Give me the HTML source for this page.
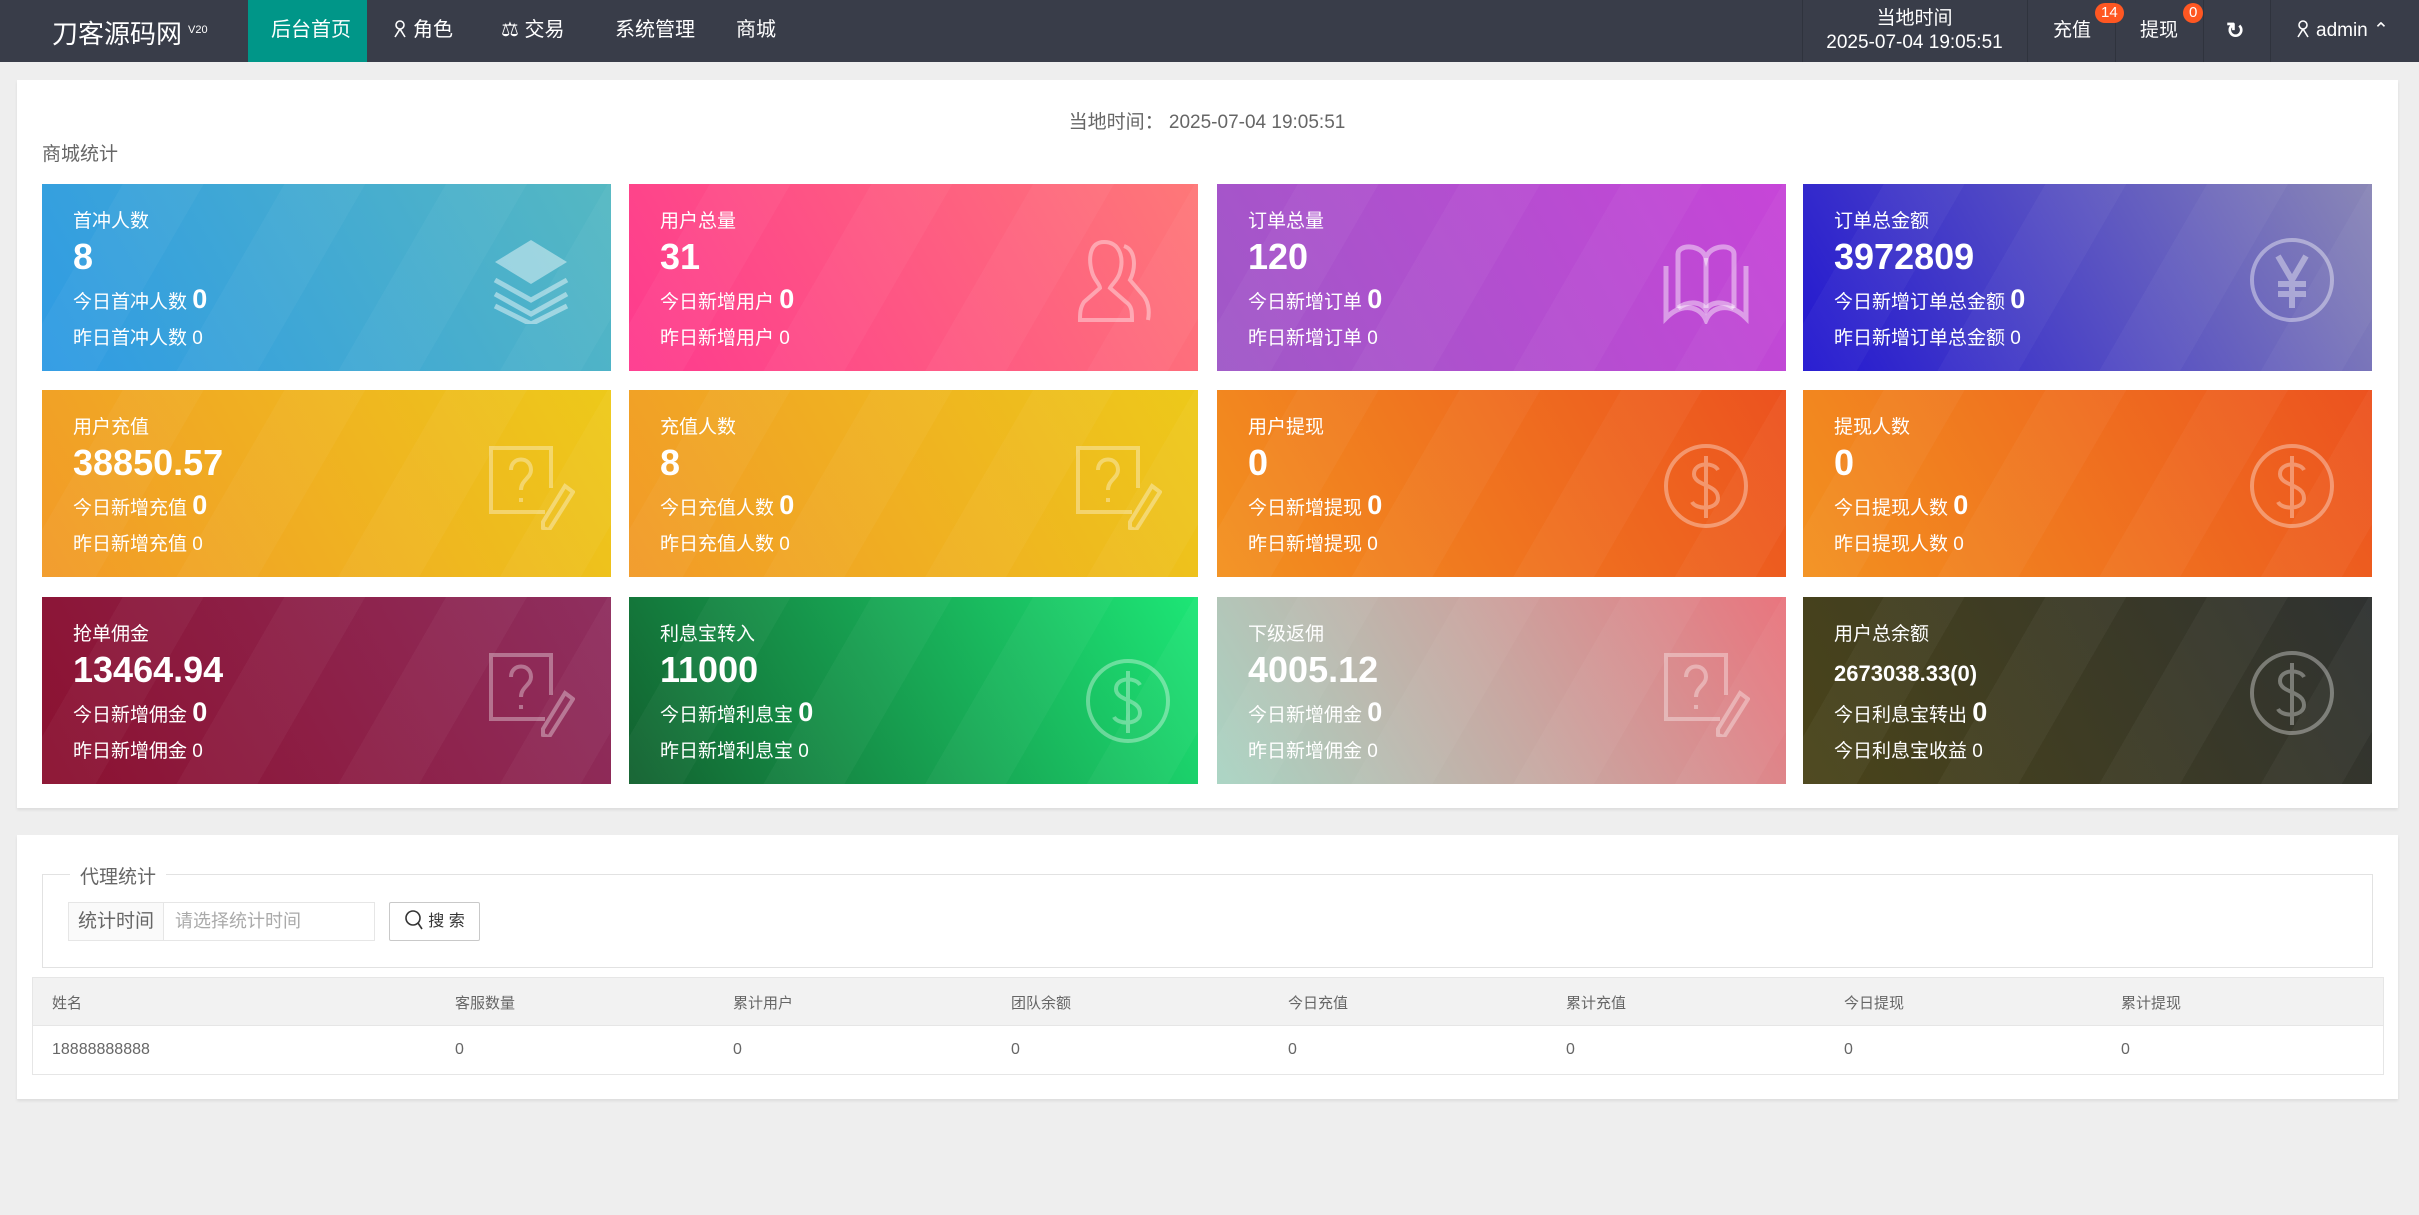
<!DOCTYPE html>
<html><head><meta charset="utf-8">
<style>
*{margin:0;padding:0;box-sizing:border-box}
body{width:2419px;height:1215px;background:#eeeeee;font-family:"Liberation Sans","Noto Sans CJK SC",sans-serif;position:relative;overflow:hidden;color:#666}
.a{position:absolute;white-space:nowrap}
.hdr{position:absolute;left:0;top:0;width:2419px;height:62px;background:#393d49}
.nav{color:#fff;font-size:20px;top:0;line-height:60px}
.sep{position:absolute;top:0;width:1px;height:62px;background:#2f333d}
.badge{position:absolute;background:#ff5722;color:#fff;font-size:15px;border-radius:10px;height:20px;line-height:20px;text-align:center;padding:0 6px}
.panel{position:absolute;background:#fff;left:17px;width:2381px;box-shadow:0 2px 3px rgba(0,0,0,.08)}
.card{position:absolute;width:569px;height:187px;color:#fff;overflow:hidden}
.card .st{position:absolute;inset:0;background:repeating-linear-gradient(120deg,rgba(255,255,255,0) 0 70px,rgba(255,255,255,.035) 70px 140px)}
.card .t{position:absolute;left:31px;top:22px;font-size:19px}
.card .n{position:absolute;left:31px;top:52px;font-size:36px;font-weight:bold}
.card .d{position:absolute;left:31px;top:100px;font-size:19px}
.card .d b{font-size:27px}
.card .y{position:absolute;left:31px;top:139px;font-size:19px}
.card svg{position:absolute;left:445px;top:52px;width:88px;height:88px}
.th{position:absolute;top:992px;font-size:15px;color:#666}
.td{position:absolute;top:1041px;font-size:16px;color:#666}
.ic{display:inline-block;width:14px;height:18px;vertical-align:-2px;margin-right:6px}
</style></head><body>
<div class="hdr"></div>
<div class="a" style="left:52px;top:14px;color:#fff;font-size:26px">刀客源码网<sup style="font-size:11px;margin-left:6px;vertical-align:10px">V20</sup></div>
<div class="a" style="left:248px;top:0;width:119px;height:62px;background:#009688"></div>
<div class="a nav" style="left:271px">后台首页</div>
<div class="a nav" style="left:393px"><svg class="ic" viewBox="0 0 14 18" fill="none" stroke="#fff" stroke-width="1.6"><circle cx="7" cy="5" r="4"/><path d="M7 9 L2 17 M7 9 L12 17"/></svg>角色</div>
<div class="a nav" style="left:501px">&#9878;&#xFE0E; 交易</div>
<div class="a nav" style="left:615px">系统管理</div>
<div class="a nav" style="left:736px">商城</div>
<div class="sep" style="left:1802px"></div><div class="sep" style="left:2027px"></div><div class="sep" style="left:2115px"></div><div class="sep" style="left:2203px"></div><div class="sep" style="left:2270px"></div>
<div class="a" style="left:1802px;width:225px;text-align:center;top:3px;color:#fff;font-size:19px">当地时间</div>
<div class="a" style="left:1802px;width:225px;text-align:center;top:32px;color:#fff;font-size:19px">2025-07-04 19:05:51</div>
<div class="a nav" style="left:2053px;top:1px;font-size:19px">充值</div>
<div class="badge" style="left:2095px;top:3px">14</div>
<div class="a nav" style="left:2140px;top:1px;font-size:19px">提现</div>
<div class="badge" style="left:2183px;top:3px">0</div>
<div class="a nav" style="left:2226px;top:1px;font-size:22px;font-weight:bold">&#8635;</div>
<div class="a nav" style="left:2296px;top:1px;font-size:19px"><svg class="ic" viewBox="0 0 14 18" fill="none" stroke="#fff" stroke-width="1.6"><circle cx="7" cy="5" r="4"/><path d="M7 9 L2 17 M7 9 L12 17"/></svg>admin &#8963;</div>

<div class="panel" style="top:80px;height:728px"></div>
<div class="a" style="left:0;width:2414px;text-align:center;top:107px;font-size:19px;color:#666">当地时间： 2025-07-04 19:05:51</div>
<div class="a" style="left:42px;top:139px;font-size:19px;color:#666">商城统计</div>

<div class="card" style="left:42px;top:184px;background:linear-gradient(60deg,#2f9be4,#55b8c2)"><div class="st"></div><div class="t">首冲人数</div><div class="n">8</div><div class="d">今日首冲人数 <b>0</b></div><div class="y">昨日首冲人数 0</div>
<svg viewBox="0 0 88 88" fill="none" stroke="rgba(255,255,255,.45)" stroke-width="5"><path d="M44 4 L80 26 L44 48 L8 26Z" fill="rgba(255,255,255,.45)" stroke="none"/><path d="M8 44 L44 64 L80 44"/><path d="M8 58 L44 78 L80 58"/><path d="M8 70 L44 88 L80 70"/></svg></div>
<div class="card" style="left:629px;top:184px;background:linear-gradient(60deg,#fe3a8e,#fe7878)"><div class="st"></div><div class="t">用户总量</div><div class="n">31</div><div class="d">今日新增用户 <b>0</b></div><div class="y">昨日新增用户 0</div>
<svg viewBox="0 0 88 88" fill="none" stroke="rgba(255,255,255,.4)" stroke-width="4"><path d="M30 6 C16 6 14 22 18 36 C20 44 26 48 26 52 L10 66 C6 72 6 78 6 84 L58 84 C58 76 58 70 52 66 L36 52 C38 48 44 44 46 36 C50 22 46 6 30 6Z"/><path d="M50 10 C62 14 62 32 56 44 L68 58 C74 64 76 74 74 84"/></svg></div>
<div class="card" style="left:1217px;top:184px;background:linear-gradient(60deg,#9f58c7,#c745d8)"><div class="st"></div><div class="t">订单总量</div><div class="n">120</div><div class="d">今日新增订单 <b>0</b></div><div class="y">昨日新增订单 0</div>
<svg viewBox="0 0 88 88" fill="none" stroke="rgba(255,255,255,.45)" stroke-width="5"><path d="M16 72 L16 18 C16 8 40 8 44 22 C48 8 72 8 72 18 L72 72"/><path d="M44 22 L44 72"/><path d="M4 30 L4 82 C20 66 38 70 44 84 C50 70 68 66 84 82 L84 30"/><path d="M16 72 C28 64 40 66 44 74 C48 66 60 64 72 72"/></svg></div>
<div class="card" style="left:1803px;top:184px;background:linear-gradient(60deg,#2217d0,#8a87b6)"><div class="st"></div><div class="t">订单总金额</div><div class="n">3972809</div><div class="d">今日新增订单总金额 <b>0</b></div><div class="y">昨日新增订单总金额 0</div>
<svg viewBox="0 0 88 88" fill="none" stroke="rgba(255,255,255,.4)" stroke-width="4"><circle cx="44" cy="44" r="40"/><path d="M30 20 L44 44 L58 20 M44 44 L44 72 M30 48 L58 48 M30 58 L58 58" stroke-width="6"/></svg></div>

<div class="card" style="left:42px;top:390px;background:linear-gradient(60deg,#f29a28,#edc91a)"><div class="st"></div><div class="t">用户充值</div><div class="n">38850.57</div><div class="d">今日新增充值 <b>0</b></div><div class="y">昨日新增充值 0</div>
<svg viewBox="0 0 88 88" fill="none" stroke="rgba(255,255,255,.35)" stroke-width="4"><path d="M58 70 L4 70 L4 6 L64 6 L64 46"/><path d="M24 28 C24 14 44 14 44 28 C44 36 34 38 34 48 M34 56 L34 60"/><path d="M78 44 L86 50 L62 88 L56 86 L56 80Z"/></svg></div>
<div class="card" style="left:629px;top:390px;background:linear-gradient(60deg,#f29a28,#edc91a)"><div class="st"></div><div class="t">充值人数</div><div class="n">8</div><div class="d">今日充值人数 <b>0</b></div><div class="y">昨日充值人数 0</div>
<svg viewBox="0 0 88 88" fill="none" stroke="rgba(255,255,255,.35)" stroke-width="4"><path d="M58 70 L4 70 L4 6 L64 6 L64 46"/><path d="M24 28 C24 14 44 14 44 28 C44 36 34 38 34 48 M34 56 L34 60"/><path d="M78 44 L86 50 L62 88 L56 86 L56 80Z"/></svg></div>
<div class="card" style="left:1217px;top:390px;background:linear-gradient(60deg,#f3911f,#ec521f)"><div class="st"></div><div class="t">用户提现</div><div class="n">0</div><div class="d">今日新增提现 <b>0</b></div><div class="y">昨日新增提现 0</div>
<svg viewBox="0 0 88 88" fill="none" stroke="rgba(255,255,255,.35)" stroke-width="4"><circle cx="44" cy="44" r="40"/><path d="M56 28 C52 20 32 20 32 32 C32 44 56 42 56 56 C56 68 34 68 30 60 M44 14 L44 76"/></svg></div>
<div class="card" style="left:1803px;top:390px;background:linear-gradient(60deg,#f3911f,#ec521f)"><div class="st"></div><div class="t">提现人数</div><div class="n">0</div><div class="d">今日提现人数 <b>0</b></div><div class="y">昨日提现人数 0</div>
<svg viewBox="0 0 88 88" fill="none" stroke="rgba(255,255,255,.35)" stroke-width="4"><circle cx="44" cy="44" r="40"/><path d="M56 28 C52 20 32 20 32 32 C32 44 56 42 56 56 C56 68 34 68 30 60 M44 14 L44 76"/></svg></div>

<div class="card" style="left:42px;top:597px;background:linear-gradient(60deg,#8b1130,#8f2f5f)"><div class="st"></div><div class="t">抢单佣金</div><div class="n">13464.94</div><div class="d">今日新增佣金 <b>0</b></div><div class="y">昨日新增佣金 0</div>
<svg viewBox="0 0 88 88" fill="none" stroke="rgba(255,255,255,.35)" stroke-width="4"><path d="M58 70 L4 70 L4 6 L64 6 L64 46"/><path d="M24 28 C24 14 44 14 44 28 C44 36 34 38 34 48 M34 56 L34 60"/><path d="M78 44 L86 50 L62 88 L56 86 L56 80Z"/></svg></div>
<div class="card" style="left:629px;top:597px;background:linear-gradient(60deg,#12612f,#1de676)"><div class="st"></div><div class="t">利息宝转入</div><div class="n">11000</div><div class="d">今日新增利息宝 <b>0</b></div><div class="y">昨日新增利息宝 0</div>
<svg viewBox="0 0 88 88" fill="none" stroke="rgba(255,255,255,.35)" stroke-width="4" style="left:455px;top:60px"><circle cx="44" cy="44" r="40"/><path d="M56 28 C52 20 32 20 32 32 C32 44 56 42 56 56 C56 68 34 68 30 60 M44 14 L44 76"/></svg></div>
<div class="card" style="left:1217px;top:597px;background:linear-gradient(60deg,#a9d4c3,#c8a8a2 50%,#e9757e)"><div class="st"></div><div class="t">下级返佣</div><div class="n">4005.12</div><div class="d">今日新增佣金 <b>0</b></div><div class="y">昨日新增佣金 0</div>
<svg viewBox="0 0 88 88" fill="none" stroke="rgba(255,255,255,.35)" stroke-width="4"><path d="M58 70 L4 70 L4 6 L64 6 L64 46"/><path d="M24 28 C24 14 44 14 44 28 C44 36 34 38 34 48 M34 56 L34 60"/><path d="M78 44 L86 50 L62 88 L56 86 L56 80Z"/></svg></div>
<div class="card" style="left:1803px;top:597px;background:linear-gradient(60deg,#4a4419,#2f3231)"><div class="st"></div><div class="t">用户总余额</div><div class="n" style="font-size:22px;top:64px">2673038.33(0)</div><div class="d">今日利息宝转出 <b>0</b></div><div class="y">今日利息宝收益 0</div>
<svg viewBox="0 0 88 88" fill="none" stroke="rgba(255,255,255,.35)" stroke-width="4"><circle cx="44" cy="44" r="40"/><path d="M56 28 C52 20 32 20 32 32 C32 44 56 42 56 56 C56 68 34 68 30 60 M44 14 L44 76"/></svg></div>

<div class="panel" style="top:835px;height:264px"></div>
<div class="a" style="left:42px;top:874px;width:2331px;height:94px;border:1px solid #e2e2e2"></div>
<div class="a" style="left:70px;top:862px;background:#fff;padding:0 10px;font-size:19px;color:#666">代理统计</div>
<div class="a" style="left:68px;top:902px;width:307px;height:39px;border:1px solid #e6e6e6;background:#fff"></div>
<div class="a" style="left:69px;top:903px;width:95px;height:37px;background:#fafafa;border-right:1px solid #e6e6e6;font-size:19px;line-height:37px;text-align:center;color:#666">统计时间</div>
<div class="a" style="left:175px;top:903px;font-size:18px;line-height:37px;color:#aaa">请选择统计时间</div>
<div class="a" style="left:389px;top:902px;width:91px;height:39px;border:1px solid #c9c9c9;border-radius:2px;font-size:16px;line-height:37px;text-align:center;color:#333"><svg style="width:20px;height:22px;vertical-align:-5px;margin-right:4px" viewBox="0 0 20 22" fill="none" stroke="#333" stroke-width="1.6"><circle cx="9" cy="9" r="7"/><path d="M14 14 L18 20"/></svg>搜 索</div>
<div class="a" style="left:32px;top:977px;width:2352px;height:98px;border:1px solid #e6e6e6"></div>
<div class="a" style="left:33px;top:978px;width:2350px;height:48px;background:#f2f2f2;border-bottom:1px solid #e6e6e6"></div>
<div class="th" style="left:52px">姓名</div><div class="th" style="left:455px">客服数量</div><div class="th" style="left:733px">累计用户</div><div class="th" style="left:1011px">团队余额</div><div class="th" style="left:1288px">今日充值</div><div class="th" style="left:1566px">累计充值</div><div class="th" style="left:1844px">今日提现</div><div class="th" style="left:2121px">累计提现</div>
<div class="td" style="left:52px">18888888888</div><div class="td" style="left:455px">0</div><div class="td" style="left:733px">0</div><div class="td" style="left:1011px">0</div><div class="td" style="left:1288px">0</div><div class="td" style="left:1566px">0</div><div class="td" style="left:1844px">0</div><div class="td" style="left:2121px">0</div>
</body></html>
